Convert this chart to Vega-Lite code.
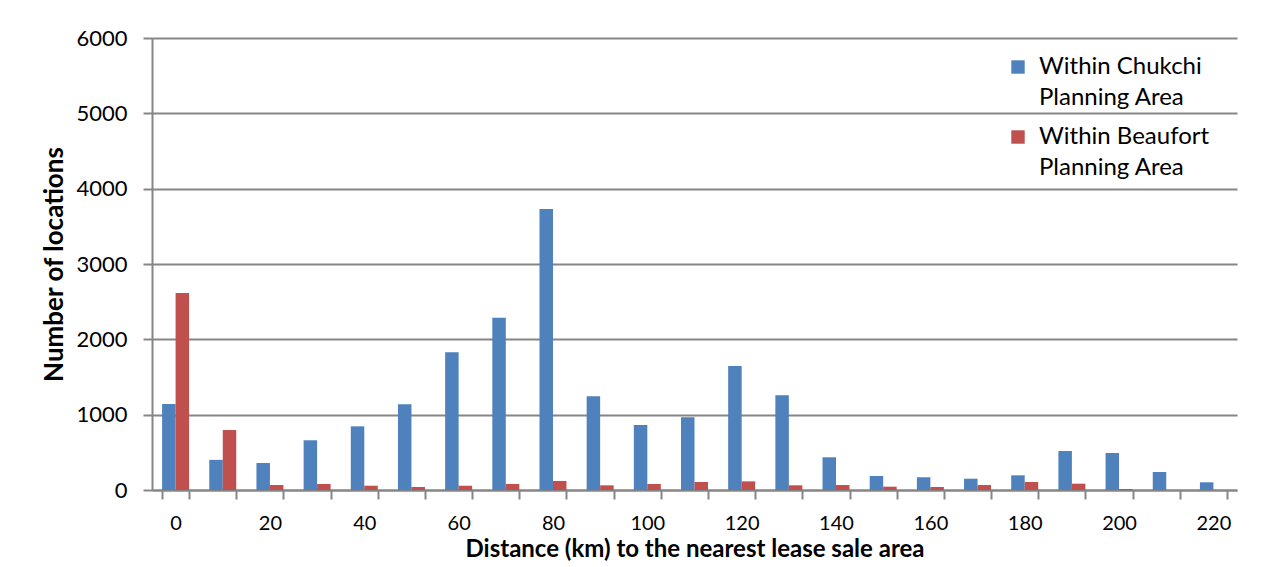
{
  "$schema": "https://vega.github.io/schema/vega-lite/v6.json",
  "width": 1085,
  "height": 452,
  "autosize": {"type": "none"},
  "padding": {"left": 152, "top": 38, "right": 44, "bottom": 77},
  "background": "white",
  "config": {
    "font": "Lato",
    "view": {"stroke": null}
  },
  "data": {
    "values": [
      {"d": 0, "s": "Within Chukchi Planning Area", "n": 1142},
      {"d": 10, "s": "Within Chukchi Planning Area", "n": 400},
      {"d": 20, "s": "Within Chukchi Planning Area", "n": 358},
      {"d": 30, "s": "Within Chukchi Planning Area", "n": 660},
      {"d": 40, "s": "Within Chukchi Planning Area", "n": 845},
      {"d": 50, "s": "Within Chukchi Planning Area", "n": 1138},
      {"d": 60, "s": "Within Chukchi Planning Area", "n": 1830},
      {"d": 70, "s": "Within Chukchi Planning Area", "n": 2285},
      {"d": 80, "s": "Within Chukchi Planning Area", "n": 3730},
      {"d": 90, "s": "Within Chukchi Planning Area", "n": 1244},
      {"d": 100, "s": "Within Chukchi Planning Area", "n": 863},
      {"d": 110, "s": "Within Chukchi Planning Area", "n": 965},
      {"d": 120, "s": "Within Chukchi Planning Area", "n": 1645},
      {"d": 130, "s": "Within Chukchi Planning Area", "n": 1257},
      {"d": 140, "s": "Within Chukchi Planning Area", "n": 434},
      {"d": 150, "s": "Within Chukchi Planning Area", "n": 186},
      {"d": 160, "s": "Within Chukchi Planning Area", "n": 169},
      {"d": 170, "s": "Within Chukchi Planning Area", "n": 150},
      {"d": 180, "s": "Within Chukchi Planning Area", "n": 195},
      {"d": 190, "s": "Within Chukchi Planning Area", "n": 518},
      {"d": 200, "s": "Within Chukchi Planning Area", "n": 491},
      {"d": 210, "s": "Within Chukchi Planning Area", "n": 239},
      {"d": 220, "s": "Within Chukchi Planning Area", "n": 102},
      {"d": 0, "s": "Within Beaufort Planning Area", "n": 2615},
      {"d": 10, "s": "Within Beaufort Planning Area", "n": 796},
      {"d": 20, "s": "Within Beaufort Planning Area", "n": 66},
      {"d": 30, "s": "Within Beaufort Planning Area", "n": 80},
      {"d": 40, "s": "Within Beaufort Planning Area", "n": 57},
      {"d": 50, "s": "Within Beaufort Planning Area", "n": 40},
      {"d": 60, "s": "Within Beaufort Planning Area", "n": 57},
      {"d": 70, "s": "Within Beaufort Planning Area", "n": 80},
      {"d": 80, "s": "Within Beaufort Planning Area", "n": 120},
      {"d": 90, "s": "Within Beaufort Planning Area", "n": 62},
      {"d": 100, "s": "Within Beaufort Planning Area", "n": 80},
      {"d": 110, "s": "Within Beaufort Planning Area", "n": 106},
      {"d": 120, "s": "Within Beaufort Planning Area", "n": 115},
      {"d": 130, "s": "Within Beaufort Planning Area", "n": 62},
      {"d": 140, "s": "Within Beaufort Planning Area", "n": 66},
      {"d": 150, "s": "Within Beaufort Planning Area", "n": 44},
      {"d": 160, "s": "Within Beaufort Planning Area", "n": 40},
      {"d": 170, "s": "Within Beaufort Planning Area", "n": 66},
      {"d": 180, "s": "Within Beaufort Planning Area", "n": 106},
      {"d": 190, "s": "Within Beaufort Planning Area", "n": 84},
      {"d": 200, "s": "Within Beaufort Planning Area", "n": 13},
      {"d": 210, "s": "Within Beaufort Planning Area", "n": 0},
      {"d": 220, "s": "Within Beaufort Planning Area", "n": 0}
    ]
  },
  "mark": {"type": "bar"},
  "encoding": {
    "x": {
      "field": "d",
      "type": "ordinal",
      "sort": "ascending",
      "scale": {"paddingInner": 0.428, "paddingOuter": 0.214},
      "axis": {
        "title": "Distance (km) to the nearest lease sale area",
        "titleFont": "Lato",
        "titleFontSize": 24,
        "titleFontWeight": "bold",
        "titleColor": "black",
        "titlePadding": 4,
        "labelAngle": 0,
        "labelFontSize": 20,
        "labelColor": "black",
        "labelPadding": 14,
        "labelExpr": "datum.value % 20 == 0 ? datum.label : ''",
        "tickBand": "extent",
        "tickColor": "#868686",
        "tickWidth": 2,
        "tickSize": 9,
        "domainColor": "#868686",
        "domainWidth": 2,
        "grid": false
      }
    },
    "xOffset": {"field": "s", "type": "nominal", "sort": ["Within Chukchi Planning Area", "Within Beaufort Planning Area"]},
    "y": {
      "field": "n",
      "type": "quantitative",
      "scale": {"domain": [0, 6000], "nice": false},
      "axis": {
        "title": "Number of locations",
        "titleFont": "Lato",
        "titleFontSize": 26,
        "titleFontWeight": "bold",
        "titleColor": "black",
        "titlePadding": 8,
        "values": [0, 1000, 2000, 3000, 4000, 5000, 6000],
        "format": "d",
        "labelFontSize": 22,
        "labelColor": "black",
        "labelPadding": 16,
        "tickColor": "#868686",
        "tickWidth": 2,
        "tickSize": 9,
        "domainColor": "#868686",
        "domainWidth": 2,
        "gridColor": "#868686",
        "gridWidth": 2
      }
    },
    "color": {
      "field": "s",
      "type": "nominal",
      "sort": ["Within Chukchi Planning Area", "Within Beaufort Planning Area"],
      "scale": {"domain": ["Within Chukchi Planning Area", "Within Beaufort Planning Area"], "range": ["#4F81BD", "#C0504D"]},
      "legend": {
        "title": null,
        "orient": "none",
        "legendX": 854,
        "legendY": 17,
        "symbolType": "square",
        "symbolSize": 180,
        "symbolStrokeWidth": 0,
        "labelFontSize": 24,
        "labelColor": "black",
        "labelOffset": 9,
        "labelLimit": 300,
        "rowPadding": 15,
        "labelExpr": "datum.label == 'Within Chukchi Planning Area' ? ['Within Chukchi', 'Planning Area'] : ['Within Beaufort', 'Planning Area']",
        "encode": {"labels": {"update": {"lineHeight": {"value": 31}}}}
      }
    }
  }
}
